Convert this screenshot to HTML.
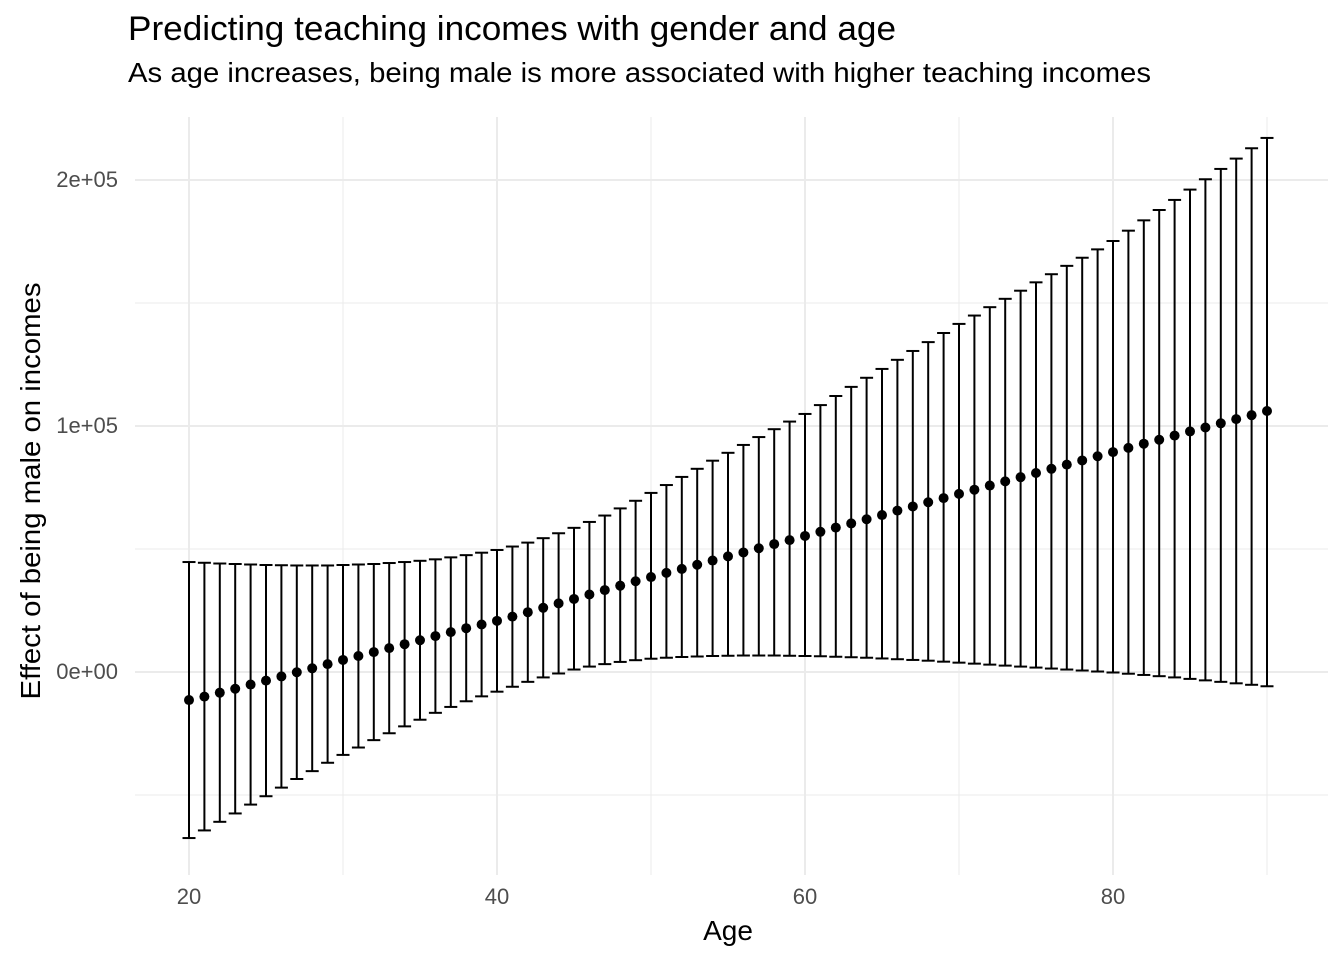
<!DOCTYPE html>
<html><head><meta charset="utf-8"><style>
body{margin:0;background:#fff;font-family:"Liberation Sans",Arial,sans-serif}
</style></head><body>
<svg id="chart" width="1344" height="960" xmlns="http://www.w3.org/2000/svg" font-family="Liberation Sans, Arial, sans-serif">
<text x="128" y="40" font-size="34" fill="#000" textLength="768" lengthAdjust="spacingAndGlyphs">Predicting teaching incomes with gender and age</text>
<text x="128" y="82" font-size="28" fill="#000" textLength="1023" lengthAdjust="spacingAndGlyphs">As age increases, being male is more associated with higher teaching incomes</text>
<g id="grid"></g><g id="marks"></g><g id="axes"></g>
<text x="728" y="940" font-size="28" text-anchor="middle">Age</text>
<text transform="translate(40,491) rotate(-90)" font-size="28" text-anchor="middle" textLength="417" lengthAdjust="spacingAndGlyphs">Effect of being male on incomes</text>
</svg>
<script>
const ages=[];for(let a=20;a<=90;a++)ages.push(a);
const estimate=[-11400,-10000,-8400,-6800,-5100,-3500,-1800,-100,1500,3200,4900,6500,8100,9700,11300,12900,14600,16200,17800,19300,20800,22500,24300,26100,27900,29700,31500,33300,35100,36900,38600,40300,41900,43600,45300,47000,48600,50300,52000,53600,55300,57000,58700,60400,62100,63800,65600,67300,69000,70700,72400,74100,75800,77500,79200,80900,82600,84300,86000,87700,89400,91100,92800,94400,96100,97800,99400,101100,102800,104400,106100];
const upper=[44700,44400,44100,43900,43700,43500,43400,43300,43300,43300,43500,43700,43900,44300,44700,45200,45800,46600,47500,48500,49600,51000,52600,54400,56400,58600,61000,63600,66500,69600,72800,76000,79300,82600,85900,89100,92300,95500,98700,101800,104900,108500,112200,115900,119600,123200,126900,130500,134100,137800,141500,144900,148300,151700,155000,158400,161700,165100,168400,171800,175200,179400,183600,187800,191900,196100,200300,204500,208700,212900,217100];
const lower=[-67500,-64400,-60900,-57500,-53900,-50500,-47000,-43500,-40300,-36900,-33700,-30700,-27700,-24900,-22100,-19400,-16600,-14200,-11900,-9900,-8000,-6000,-4000,-2200,-600,1000,2200,3200,4100,4800,5400,5800,6100,6300,6500,6600,6700,6700,6700,6600,6500,6400,6200,6000,5800,5500,5200,4900,4600,4200,3800,3400,3000,2600,2200,1800,1400,1000,600,200,-200,-700,-1200,-1700,-2200,-2800,-3400,-4000,-4600,-5200,-5800];
const xTicks=[20,40,60,80];const xMinor=[30,50,70,90];
const yTicks=[0,100000,200000];const yTickLabels=["0e+00","1e+05","2e+05"];const yMinor=[-50000,50000,150000];
const X=a=>189+(a-20)*15.4;
const Y=v=>672-v*0.00246;
const NS="http://www.w3.org/2000/svg";
function mk(p,t,at){const e=document.createElementNS(NS,t);for(const k in at)e.setAttribute(k,at[k]);p.appendChild(e);return e;}
const grid=document.getElementById('grid'),marks=document.getElementById('marks'),axes=document.getElementById('axes');
const L=135,R=1328,T=117,B=875;
yMinor.forEach(v=>{const l=mk(grid,'line',{x1:L,x2:R,y1:Y(v),y2:Y(v),stroke:'#ebebeb','stroke-width':1});

});
xMinor.forEach(v=>{const l=mk(grid,'line',{x1:X(v),x2:X(v),y1:T,y2:B,stroke:'#ebebeb','stroke-width':1});

});
yTicks.forEach((v,i)=>{const l=mk(grid,'line',{x1:L,x2:R,y1:Y(v),y2:Y(v),stroke:'#ebebeb','stroke-width':2});


const t=mk(axes,'text',{x:118,y:Y(v)+7,'font-size':22,fill:'#4d4d4d','text-anchor':'end'});t.textContent=yTickLabels[i];

});
xTicks.forEach(v=>{const l=mk(grid,'line',{x1:X(v),x2:X(v),y1:T,y2:B,stroke:'#ebebeb','stroke-width':2});


const t=mk(axes,'text',{x:X(v),y:904,'font-size':22,fill:'#4d4d4d','text-anchor':'middle'});t.textContent=v;

});
ages.forEach((a,i)=>{const x=X(a),c=6.5;
const g=mk(marks,'g',{stroke:'#000','stroke-width':2});


mk(g,'line',{x1:x,x2:x,y1:Y(upper[i]),y2:Y(lower[i])});
mk(g,'line',{x1:x-c,x2:x+c,y1:Y(upper[i]),y2:Y(upper[i])});
mk(g,'line',{x1:x-c,x2:x+c,y1:Y(lower[i]),y2:Y(lower[i])});});
ages.forEach((a,i)=>{const p=mk(marks,'circle',{cx:X(a),cy:Y(estimate[i]),r:5,fill:'#000'});

});
</script>
</body></html>
